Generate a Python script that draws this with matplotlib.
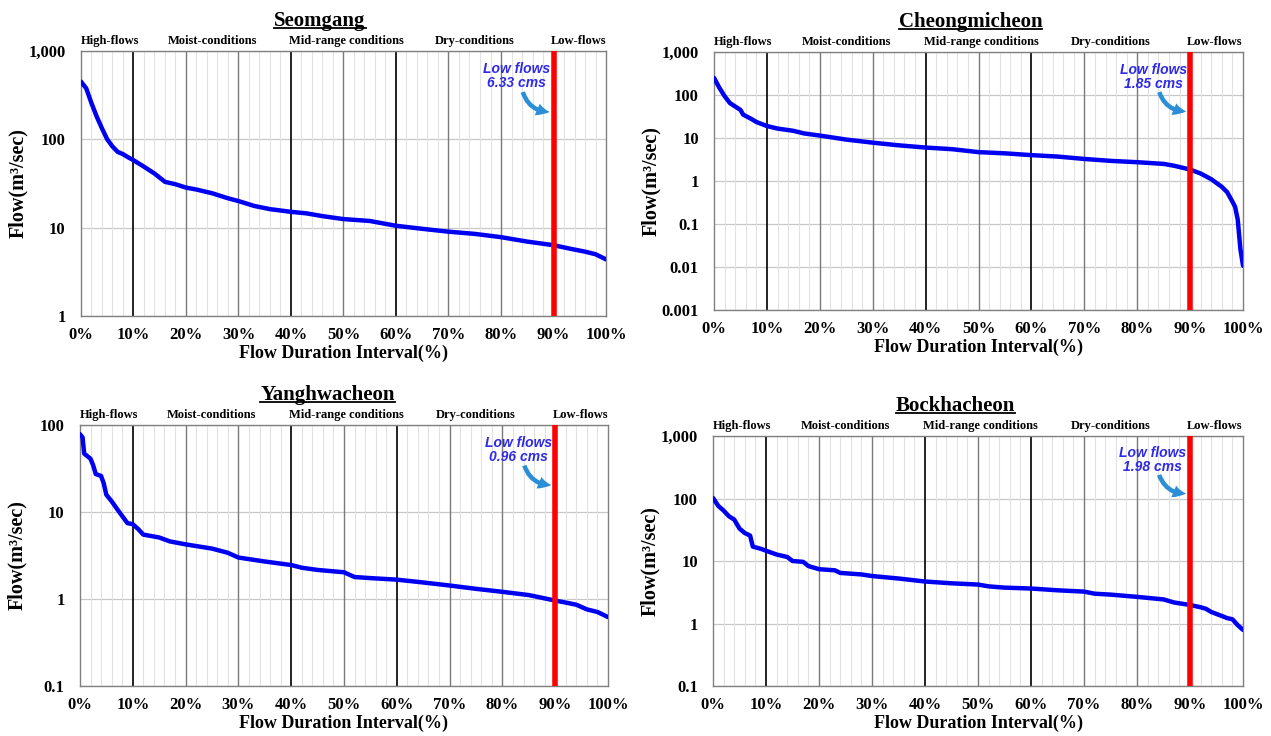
import matplotlib
matplotlib.use("Agg")
import matplotlib.pyplot as plt
from matplotlib.ticker import FixedLocator, FuncFormatter
from matplotlib.lines import Line2D

plt.rcParams['font.family'] = ['Liberation Serif', 'DejaVu Serif']
plt.rcParams['font.weight'] = 'bold'

# flow duration curves (exceedance %, flow m3/s)
seomgang_pct = [0, 1, 2, 3, 4, 5, 6, 7, 8, 9, 10, 12, 14, 16, 18, 20, 22, 25, 28, 30,
                33, 36, 40, 43, 46, 50, 55, 60, 65, 70, 75, 80, 85, 90, 93, 96, 98, 100]
seomgang_q = [450, 378, 257, 181, 133, 100, 83, 72, 68, 62.5, 58, 49, 41, 33, 31, 28.4, 27,
              24.5, 21.5, 20, 17.6, 16.2, 15.1, 14.5, 13.5, 12.5, 11.9, 10.5, 9.7, 9.0,
              8.5, 7.8, 6.95, 6.33, 5.8, 5.35, 5.0, 4.37]

cheong_pct = [0, 1, 2, 3, 4, 5, 5.5, 7, 8, 10, 12, 15, 17, 20, 25, 30, 35, 40, 45, 50, 55,
              60, 65, 70, 75, 80, 85, 87, 90, 92, 94, 96, 97, 98, 98.5, 99, 99.5, 100]
cheong_q = [250, 148, 94, 65, 54, 45, 35, 28, 23.6, 19, 16.6, 14.7, 12.8, 11.4, 9.2, 7.8,
            6.75, 6.0, 5.5, 4.7, 4.4, 4.0, 3.7, 3.26, 2.94, 2.74, 2.5, 2.26, 1.85, 1.49,
            1.1, 0.73, 0.55, 0.33, 0.25, 0.126, 0.026, 0.0107]

yangh_pct = [0, 0.5, 0.8, 2, 2.5, 3, 4, 4.5, 5, 6, 7, 8, 9, 10, 11, 12, 15, 17, 20, 25, 28,
             30, 35, 40, 42, 45, 50, 52, 55, 60, 65, 70, 75, 80, 85, 90, 92, 94, 96, 98, 100]
yangh_q = [78.5, 72, 47, 41, 34.5, 27.3, 26, 21.4, 15.8, 13.3, 10.9, 9.0, 7.45, 7.25, 6.4,
           5.5, 5.1, 4.6, 4.25, 3.8, 3.4, 3.0, 2.7, 2.46, 2.29, 2.16, 2.03, 1.79, 1.74,
           1.67, 1.55, 1.43, 1.31, 1.21, 1.11, 0.96, 0.91, 0.86, 0.76, 0.71, 0.62]

bock_pct = [0, 1, 2, 3, 4, 5, 6, 7, 7.5, 9, 10, 12, 14, 15, 17, 18, 20, 23, 24, 28, 30, 35,
            40, 45, 50, 52, 55, 60, 65, 70, 72, 75, 80, 85, 87, 90, 92, 93, 94, 96, 97, 98,
            99, 100]
bock_q = [102, 76, 64, 52, 46, 33, 28, 25.5, 17, 15.7, 14.6, 12.7, 11.6, 10, 9.7, 8.3, 7.4,
          7.1, 6.45, 6.1, 5.75, 5.25, 4.7, 4.4, 4.2, 3.93, 3.75, 3.63, 3.4, 3.24, 3.0, 2.9,
          2.67, 2.43, 2.17, 1.98, 1.82, 1.72, 1.53, 1.32, 1.22, 1.17, 0.94, 0.79]

stations = ['Seomgang', 'Cheongmicheon', 'Yanghwacheon', 'Bockhacheon']
low_flows = [6.33, 1.85, 0.96, 1.98]
y_limits = [(1, 1000), (0.001, 1000), (0.1, 100), (0.1, 1000)]
regimes = ['High-flows', 'Moist-conditions', 'Mid-range conditions', 'Dry-conditions', 'Low-flows']
regime_pos = [5.5, 25, 50.5, 75, 94.7]
title_x = [0.455, 0.485, 0.469, 0.458]

# axes rectangles [left, bottom, width, height]
rects = [[0.0637, 0.5707, 0.4131, 0.360],
         [0.5618, 0.5788, 0.4162, 0.3505],
         [0.0629, 0.0679, 0.4155, 0.3546],
         [0.5610, 0.0679, 0.4170, 0.3397]]

curves = [(seomgang_pct, seomgang_q), (cheong_pct, cheong_q),
          (yangh_pct, yangh_q), (bock_pct, bock_q)]

fig = plt.figure(figsize=(12.71, 7.36), dpi=100)


def flow_fmt(v, pos):
    if v >= 1:
        return f"{int(round(v)):,}"
    return f"{v:g}"


titles = []
for i in range(4):
    ax = fig.add_axes(rects[i])
    pct, q = curves[i]
    lo, hi = y_limits[i]
    ax.set_yscale('log')
    ax.set_xlim(0, 100)
    ax.set_ylim(lo, hi)

    # vertical grid
    for x in range(2, 100, 2):
        if x % 10:
            ax.axvline(x, color='#e2e2e2', lw=0.8, zorder=1)
    for x in [20, 30, 50, 70, 80]:
        ax.axvline(x, color='#7a7a7a', lw=1.0, zorder=2)
    for x in [10, 40, 60]:
        ax.axvline(x, color='#111111', lw=1.3, zorder=2)
    ax.yaxis.grid(True, which='major', color='#c8c8c8', lw=0.9, zorder=1)
    ax.set_axisbelow(True)

    ax.plot(pct, q, color='#0000f0', lw=3.2, zorder=4, solid_capstyle='round')
    ax.axvline(90, color='#ff0000', lw=4, zorder=5)

    ax.xaxis.set_major_locator(FixedLocator(range(0, 101, 10)))
    ax.xaxis.set_major_formatter(FuncFormatter(lambda v, p: f"{int(v)}%"))
    ax.yaxis.set_major_formatter(FuncFormatter(flow_fmt))
    ax.yaxis.set_minor_locator(FixedLocator([]))
    ax.tick_params(axis='x', length=0, labelsize=12, pad=8)
    ax.tick_params(axis='y', length=0, labelsize=12, pad=11)
    for lab in ax.get_xticklabels() + ax.get_yticklabels():
        lab.set_fontweight('bold')
    for s in ax.spines.values():
        s.set_color('#808080')
        s.set_linewidth(1.0)

    ax.set_ylabel('Flow(m³/sec)', fontsize=14.5, fontweight='bold')
    ax.yaxis.set_label_coords(-0.1, 0.5)
    ax.set_xlabel('Flow Duration Interval(%)', fontsize=13, fontweight='bold', labelpad=1)

    for name, xp in zip(regimes, regime_pos):
        ax.annotate(name, xy=(xp / 100, 1), xycoords='axes fraction',
                    xytext=(0, 4), textcoords='offset pixels', ha='center',
                    va='bottom', fontsize=9, fontweight='bold')

    t = ax.annotate(stations[i], xy=(title_x[i], 1), xycoords='axes fraction',
                    xytext=(0, 25), textcoords='offset pixels', ha='center',
                    va='baseline', fontsize=15, fontweight='bold')
    titles.append(t)

    ax.text(0.83, 0.905, f"Low flows\n{low_flows[i]:.2f} cms", transform=ax.transAxes,
            ha='center', va='center', fontsize=10, color='#2f2ae6', style='italic',
            family='Liberation Sans', fontweight='bold', linespacing=1.0, zorder=6)
    ax.annotate('', xy=(0.898, 0.77), xytext=(0.84, 0.855),
                xycoords='axes fraction', textcoords='axes fraction',
                arrowprops=dict(arrowstyle='simple,head_width=0.7,head_length=0.7,tail_width=0.25',
                                connectionstyle='arc3,rad=0.4', color='#2a8fd6', lw=0,
                                mutation_scale=13),
                zorder=6)

# underline the station titles
fig.canvas.draw()
renderer = fig.canvas.get_renderer()
W, H = fig.bbox.width, fig.bbox.height
for t in titles:
    bb = t.get_window_extent(renderer)
    base = t.get_transform().transform(t.xy)[1] + 25
    y = (base - 2.5) / H
    fig.add_artist(Line2D([bb.x0 / W, bb.x1 / W], [y, y], color='black', lw=1.3))

fig.savefig('out.png', dpi=100)
